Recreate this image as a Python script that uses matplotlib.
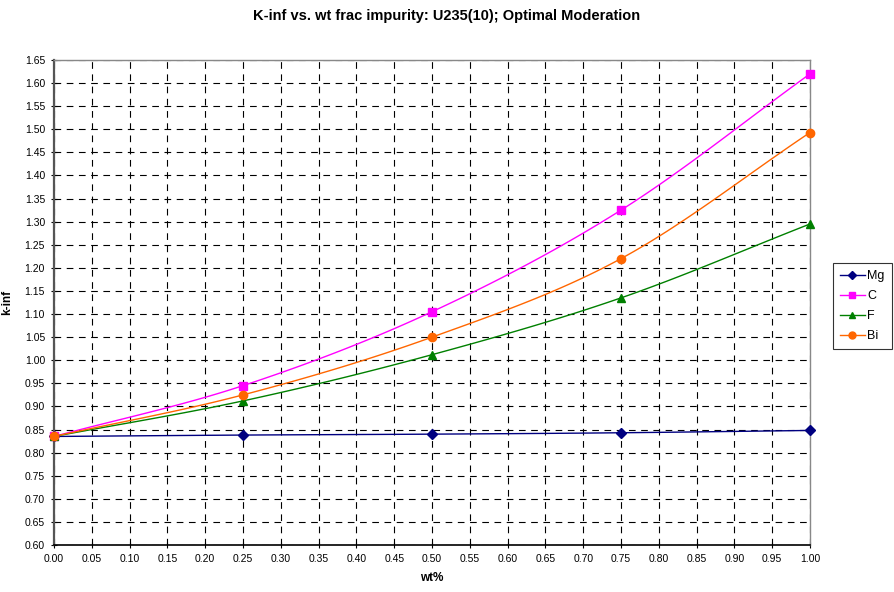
import matplotlib
matplotlib.use('Agg')
import matplotlib.pyplot as plt
import numpy as np

plt.rcParams['font.family'] = ['Liberation Sans', 'DejaVu Sans']

# data
wt = [0.0, 0.25, 0.50, 0.75, 1.00]
mg = [0.835, 0.838, 0.840, 0.843, 0.848]
c = [0.835, 0.945, 1.105, 1.325, 1.620]
f = [0.835, 0.912, 1.012, 1.135, 1.295]
bi = [0.835, 0.925, 1.050, 1.220, 1.493]

x_ticks = np.arange(0, 1.0001, 0.05)
y_ticks = np.arange(0.60, 1.6501, 0.05)


def smooth(xs, ys, n=30):
    """Catmull-Rom style smoothing like Excel's smoothed lines."""
    xs = np.asarray(xs, float)
    ys = np.asarray(ys, float)
    px = np.concatenate([[2 * xs[0] - xs[1]], xs, [2 * xs[-1] - xs[-2]]])
    py = np.concatenate([[2 * ys[0] - ys[1]], ys, [2 * ys[-1] - ys[-2]]])
    ox, oy = [], []
    for i in range(1, len(px) - 2):
        t = np.linspace(0, 1, n)
        for p, out in ((px, ox), (py, oy)):
            p0, p1, p2, p3 = p[i - 1], p[i], p[i + 1], p[i + 2]
            out.extend(0.5 * ((2 * p1) + (-p0 + p2) * t
                              + (2 * p0 - 5 * p1 + 4 * p2 - p3) * t ** 2
                              + (-p0 + 3 * p1 - 3 * p2 + p3) * t ** 3))
    return ox, oy


fig = plt.figure(figsize=(8.94, 5.92), dpi=100)
ax = fig.add_axes([54 / 894, 47 / 592, 756 / 894, 485 / 592])

series = [
    ('Mg', mg, '#000080', 'D', 5),
    ('C', c, '#FF00FF', 's', 6),
    ('F', f, '#008000', '^', 6),
    ('Bi', bi, '#FF6600', 'o', 6),
]

for name, ys, col, mk, ms in series:
    sx, sy = smooth(wt, ys)
    ax.plot(sx, sy, color=col, lw=1.0, zorder=3)
    ax.plot(wt, ys, linestyle='none', marker=mk, color=col, ms=ms, zorder=4, clip_on=False)
    ax.plot([], [], color=col, marker=mk, ms=ms - 1, lw=1.0, label=name)

ax.set_xlim(0, 1)
ax.set_ylim(0.60, 1.65)
ax.set_xticks(x_ticks)
ax.set_yticks(y_ticks)
ax.set_xticklabels([f'{v:.2f}' for v in x_ticks], fontsize=7.5)
ax.set_yticklabels([f'{v:.2f}' for v in y_ticks], fontsize=7.5)
ax.grid(True, color='black', linestyle=(0, (6, 5)), lw=0.8)
ax.tick_params(direction='inout', length=5, width=0.8, color='black', pad=4)

ax.spines['left'].set_color('#555555')
ax.spines['left'].set_linewidth(1.6)
ax.spines['bottom'].set_color('black')
ax.spines['bottom'].set_linewidth(1.2)
for s in ('top', 'right'):
    ax.spines[s].set_color('#888888')
    ax.spines[s].set_linewidth(1.0)

ax.set_xlabel('wt%', fontsize=8.5, fontweight='bold', labelpad=6)
ax.set_ylabel('k-inf', fontsize=8.5, fontweight='bold', labelpad=8)
fig.suptitle('K-inf vs. wt frac impurity: U235(10); Optimal Moderation',
             fontsize=10.5, fontweight='bold', x=0.5, y=0.985)

leg = fig.legend(loc='upper left', bbox_to_anchor=(833 / 894, 1 - 263 / 592),
                 fontsize=9, frameon=True, fancybox=False, handlelength=2.0,
                 borderpad=0.55, labelspacing=0.65, handletextpad=0.2,
                 borderaxespad=0)
leg.get_frame().set_edgecolor('black')
leg.get_frame().set_linewidth(0.8)

fig.savefig('out.png', dpi=100)
